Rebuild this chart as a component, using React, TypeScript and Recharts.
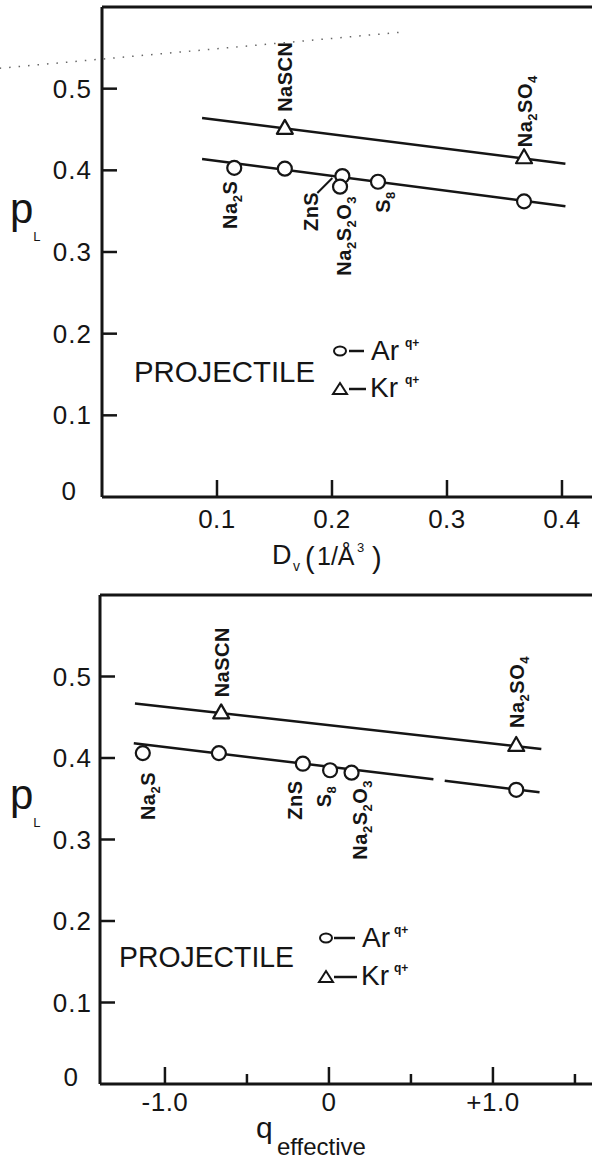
import React from "react";
import {
  ScatterChart,
  Scatter,
  XAxis,
  YAxis,
  ReferenceLine,
  Customized,
} from "recharts";

const FONT = "'Liberation Sans', Arial, Helvetica, sans-serif";
const INK = "#151515";

// p_L ticks, same on both panels
const pTicks = [0, 0.1, 0.2, 0.3, 0.4, 0.5];

// upper panel: p_L vs D_v (1/Å^3)
const dvTicks = [0.1, 0.2, 0.3, 0.4];
const dvAr = [
  { x: 0.115, y: 0.403, name: "Na2S" },
  { x: 0.159, y: 0.402, name: "NaSCN" },
  { x: 0.209, y: 0.393, name: "ZnS" },
  { x: 0.207, y: 0.38, name: "Na2S2O3" },
  { x: 0.24, y: 0.386, name: "S8" },
  { x: 0.367, y: 0.362, name: "Na2SO4" },
];
const dvKr = [
  { x: 0.159, y: 0.452, name: "NaSCN" },
  { x: 0.367, y: 0.416, name: "Na2SO4" },
];
const dvArFit = [
  { x: 0.087, y: 0.414 },
  { x: 0.403, y: 0.356 },
];
const dvKrFit = [
  { x: 0.087, y: 0.464 },
  { x: 0.403, y: 0.408 },
];
// faint dotted streak across the top of the scan
const dvStreak = [
  { x: -0.089, y: 0.525 },
  { x: 0.259, y: 0.569 },
];

// lower panel: p_L vs q_effective
const qTicks = [-1, -0.5, 0, 0.5, 1, 1.5];
const qTickText: Record<string, string> = { "-1": "-1.0", "0": "0", "1": "+1.0" };
const qAr = [
  { x: -1.135, y: 0.406, name: "Na2S" },
  { x: -0.671, y: 0.406, name: "NaSCN" },
  { x: -0.159, y: 0.393, name: "ZnS" },
  { x: 0.007, y: 0.385, name: "S8" },
  { x: 0.138, y: 0.382, name: "Na2S2O3" },
  { x: 1.142, y: 0.361, name: "Na2SO4" },
];
const qKr = [
  { x: -0.657, y: 0.456, name: "NaSCN" },
  { x: 1.142, y: 0.416, name: "Na2SO4" },
];
// the Ar fit line has a small break in the print
const qArFitA = [
  { x: -1.19, y: 0.418 },
  { x: 0.637, y: 0.374 },
];
const qArFitB = [
  { x: 0.706, y: 0.372 },
  { x: 1.284, y: 0.358 },
];
const qKrFit = [
  { x: -1.183, y: 0.467 },
  { x: 1.295, y: 0.411 },
];

// where each compound name sits relative to its marker (px)
type Tag = { dx: number; dy: number; lead?: [number, number, number, number] };
const dvArTags: Record<string, Tag> = {
  Na2S: { dx: -4, dy: 61 },
  ZnS: { dx: -31, dy: 55, lead: [-25, 17, -10, 2] },
  Na2S2O3: { dx: 4, dy: 89 },
  S8: { dx: 5, dy: 31 },
};
const dvKrTags: Record<string, Tag> = {
  NaSCN: { dx: 0, dy: -16 },
  Na2SO4: { dx: 1, dy: -10 },
};
const qArTags: Record<string, Tag> = {
  Na2S: { dx: 5, dy: 67 },
  ZnS: { dx: -8, dy: 56 },
  S8: { dx: -6, dy: 37 },
  Na2S2O3: { dx: 8, dy: 87 },
};
const qKrTags: Record<string, Tag> = {
  NaSCN: { dx: 1, dy: -15 },
  Na2SO4: { dx: 1, dy: -17 },
};

function Formula({ name, x, y }: { name: string; x: number; y: number }) {
  const parts = name.match(/[A-Za-z]+|\d+/g) || [];
  return (
    <text
      x={x}
      y={y}
      transform={`rotate(-90 ${x} ${y})`}
      fontFamily={FONT}
      fontWeight="bold"
      fontSize={20}
      letterSpacing={0.5}
      fill={INK}
    >
      {parts.map((p, i) => {
        const sub = /\d/.test(p);
        const dy = sub ? 5 : i > 0 ? -5 : 0;
        return (
          <tspan key={i} dy={dy} fontSize={sub ? 13 : 20}>
            {p}
          </tspan>
        );
      })}
    </text>
  );
}

function markShape(kind: "o" | "tri", tags: Record<string, Tag>) {
  return (props: any) => {
    const { cx, cy, payload } = props;
    if (cx == null || cy == null) return <g />;
    const tag = tags[payload?.name];
    return (
      <g>
        {kind === "o" ? (
          <circle cx={cx} cy={cy} r={7} fill="#fff" stroke={INK} strokeWidth={2.2} />
        ) : (
          <path
            d={`M${cx} ${cy - 8}L${cx + 8} ${cy + 6}L${cx - 8} ${cy + 6}Z`}
            fill="#fff"
            stroke={INK}
            strokeWidth={2.2}
            strokeLinejoin="round"
          />
        )}
        {tag && <Formula name={payload.name} x={cx + tag.dx + 7} y={cy + tag.dy} />}
        {tag?.lead && (
          <line
            x1={cx + tag.lead[0]}
            y1={cy + tag.lead[1]}
            x2={cx + tag.lead[2]}
            y2={cy + tag.lead[3]}
            stroke={INK}
            strokeWidth={2}
          />
        )}
      </g>
    );
  };
}

const blank = () => <g />;

function leftTick(zeroDx: number, zeroDy: number, gap: number) {
  return (props: any) => {
    const { x, y, payload } = props;
    const v = payload.value as number;
    const zero = Math.abs(v) < 1e-9;
    return (
      <g>
        {!zero && <line x1={x} x2={x + 15} y1={y} y2={y} stroke={INK} strokeWidth={2.5} />}
        <text
          x={zero ? x + zeroDx : x - gap}
          y={zero ? y + zeroDy : y}
          textAnchor="end"
          dominantBaseline="central"
          fontFamily={FONT}
          fontSize={26}
          letterSpacing={1}
          fill={INK}
        >
          {zero ? "0" : v.toFixed(1)}
        </text>
      </g>
    );
  };
}

function bottomTick(labelOf: (v: number) => string | null, major: (v: number) => boolean, drop: number) {
  return (props: any) => {
    const { x, y, payload } = props;
    const v = payload.value as number;
    const len = major(v) ? 17 : 10;
    const txt = labelOf(v);
    return (
      <g>
        <line x1={x} x2={x} y1={y} y2={y - len} stroke={INK} strokeWidth={2.5} />
        {txt && (
          <text
            x={x}
            y={y + drop}
            textAnchor="middle"
            fontFamily={FONT}
            fontSize={26}
            letterSpacing={0.5}
            fill={INK}
          >
            {txt}
          </text>
        )}
      </g>
    );
  };
}

type KeySpec = {
  titleX: number;
  titleY: number;
  titleW: number;
  mark: number;
  dash: [number, number];
  sym: number;
  sup: number;
  arY: number;
  krY: number;
};

function ProjectileKey({ k }: { k: KeySpec }) {
  const oY = k.arY - 9;
  const tY = k.krY - 8;
  return (
    <g fontFamily={FONT} fill={INK}>
      <text x={k.titleX} y={k.titleY} fontSize={30} textLength={k.titleW} lengthAdjust="spacingAndGlyphs">
        PROJECTILE
      </text>
      <ellipse cx={k.mark} cy={oY} rx={6} ry={4.5} fill="#fff" stroke={INK} strokeWidth={2} />
      <line x1={k.dash[0]} x2={k.dash[1]} y1={oY} y2={oY} stroke={INK} strokeWidth={2.5} />
      <text x={k.sym} y={k.arY} fontSize={28}>
        Ar
      </text>
      <text x={k.sup} y={k.arY - 13} fontSize={12} fontWeight="bold">
        q+
      </text>
      <path
        d={`M${k.mark} ${tY - 6}L${k.mark + 7} ${tY + 5}L${k.mark - 7} ${tY + 5}Z`}
        fill="#fff"
        stroke={INK}
        strokeWidth={2}
      />
      <line x1={k.dash[0]} x2={k.dash[1] + 2} y1={tY} y2={tY} stroke={INK} strokeWidth={2.5} />
      <text x={k.sym - 1} y={k.krY} fontSize={28}>
        Kr
      </text>
      <text x={k.sup} y={k.krY - 13} fontSize={12} fontWeight="bold">
        q+
      </text>
    </g>
  );
}

const topKey: KeySpec = {
  titleX: 134,
  titleY: 382,
  titleW: 181,
  mark: 340,
  dash: [349, 364],
  sym: 371,
  sup: 405,
  arY: 360,
  krY: 397,
};
const bottomKey: KeySpec = {
  titleX: 119,
  titleY: 377,
  titleW: 175,
  mark: 326,
  dash: [334, 355],
  sym: 362,
  sup: 394,
  arY: 357,
  krY: 395,
};

function PLabel({ x, y }: { x: number; y: number }) {
  return (
    <text x={x} y={y} fontFamily={FONT} fill={INK} fontSize={42}>
      p
      <tspan dx={0} dy={18} fontSize={13}>
        L
      </tspan>
    </text>
  );
}

const TopOverlay = () => (
  <g>
    <PLabel x={10} y={223} />
    <ProjectileKey k={topKey} />
    <g fontFamily={FONT} fill={INK}>
      <text x={272} y={564} fontSize={27}>
        D
      </text>
      <text x={293} y={571} fontSize={14}>
        v
      </text>
      <text x={305} y={568} fontSize={29}>
        (
      </text>
      <text x={317} y={565} fontSize={25}>
        1/Å
      </text>
      <text x={357} y={552} fontSize={13}>
        3
      </text>
      <text x={372} y={568} fontSize={29}>
        )
      </text>
    </g>
  </g>
);

const BottomOverlay = () => (
  <g>
    <PLabel x={10} y={219} />
    <ProjectileKey k={bottomKey} />
    <g fontFamily={FONT} fill={INK}>
      <text x={256} y={548} fontSize={30}>
        q
      </text>
      <text x={277} y={565} fontSize={24}>
        effective
      </text>
    </g>
  </g>
);

const axisStroke = { stroke: INK, strokeWidth: 3 };

export default function App() {
  return (
    <div style={{ position: "absolute", left: 0, top: 0, width: 592, height: 1163, background: "#fff" }}>
      <ScatterChart width={592} height={590} margin={{ top: 7, right: 0, bottom: 0, left: 0 }}>
        <XAxis
          type="number"
          dataKey="x"
          domain={[0, 0.4261]}
          allowDataOverflow
          ticks={dvTicks}
          interval={0}
          height={93}
          tickSize={0}
          tickMargin={0}
          tickLine={false}
          axisLine={axisStroke}
          tick={bottomTick((v) => v.toFixed(1), () => true, 31)}
        />
        <YAxis
          type="number"
          dataKey="y"
          domain={[0, 0.6]}
          allowDataOverflow
          ticks={pTicks}
          interval={0}
          width={102}
          tickSize={0}
          tickMargin={0}
          tickLine={false}
          axisLine={axisStroke}
          tick={leftTick(-25, -6, 10)}
        />
        <ReferenceLine y={0.6} stroke={INK} strokeWidth={3} />
        <ReferenceLine
          segment={dvStreak}
          ifOverflow="visible"
          stroke="#666"
          strokeWidth={1.5}
          strokeDasharray="1.5 8"
        />
        <Scatter data={dvArFit} line={{ stroke: INK, strokeWidth: 2.5 }} shape={blank} legendType="none" isAnimationActive={false} />
        <Scatter data={dvKrFit} line={{ stroke: INK, strokeWidth: 2.5 }} shape={blank} legendType="none" isAnimationActive={false} />
        <Scatter data={dvAr} shape={markShape("o", dvArTags)} isAnimationActive={false} />
        <Scatter data={dvKr} shape={markShape("tri", dvKrTags)} isAnimationActive={false} />
        <Customized component={TopOverlay} />
      </ScatterChart>

      <ScatterChart width={592} height={573} margin={{ top: 5, right: 0, bottom: 0, left: 0 }}>
        <XAxis
          type="number"
          dataKey="x"
          domain={[-1.396, 1.604]}
          allowDataOverflow
          ticks={qTicks}
          interval={0}
          height={79}
          tickSize={0}
          tickMargin={0}
          tickLine={false}
          axisLine={axisStroke}
          tick={bottomTick(
            (v) => qTickText[String(Math.round(v * 10) / 10)] ?? null,
            (v) => Math.abs(v - Math.round(v)) < 1e-6,
            27
          )}
        />
        <YAxis
          type="number"
          dataKey="y"
          domain={[0, 0.6]}
          allowDataOverflow
          ticks={pTicks}
          interval={0}
          width={100}
          tickSize={0}
          tickMargin={0}
          tickLine={false}
          axisLine={axisStroke}
          tick={leftTick(-21, -7, 8)}
        />
        <ReferenceLine y={0.6} stroke={INK} strokeWidth={3} />
        <Scatter data={qArFitA} line={{ stroke: INK, strokeWidth: 2.5 }} shape={blank} legendType="none" isAnimationActive={false} />
        <Scatter data={qArFitB} line={{ stroke: INK, strokeWidth: 2.5 }} shape={blank} legendType="none" isAnimationActive={false} />
        <Scatter data={qKrFit} line={{ stroke: INK, strokeWidth: 2.5 }} shape={blank} legendType="none" isAnimationActive={false} />
        <Scatter data={qAr} shape={markShape("o", qArTags)} isAnimationActive={false} />
        <Scatter data={qKr} shape={markShape("tri", qKrTags)} isAnimationActive={false} />
        <Customized component={BottomOverlay} />
      </ScatterChart>
    </div>
  );
}
